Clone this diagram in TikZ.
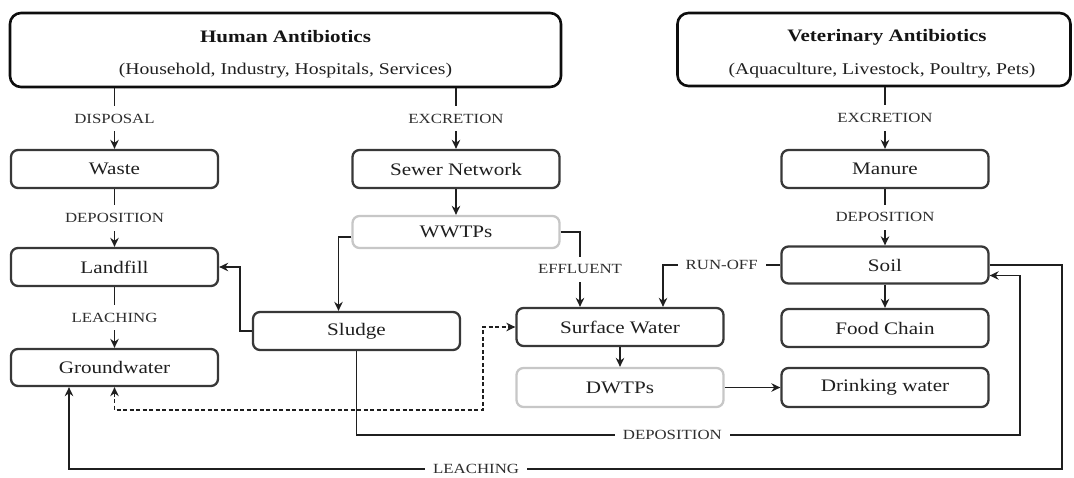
\documentclass[tikz,border=0pt]{standalone}
\usepackage{fontspec}
\setmainfont{Liberation Serif}
\usepackage{graphicx}
\usetikzlibrary{arrows.meta,calc}
\newcommand{\hstr}[1]{\scalebox{1.2}[1]{#1}}
\tikzset{
  box/.style={draw=black!78, line width=2.3pt, rounded corners=7pt, fill=white,
    minimum width=207pt, minimum height=38pt, inner sep=0pt,
    font=\fontsize{17.6}{20}\selectfont, text=black!88},
  bigbox/.style={draw=black!95, line width=2.6pt, rounded corners=11pt, inner sep=0pt},
  plant/.style={box, draw=black!22},
  ttl/.style={font=\fontsize{17.5}{20}\selectfont\bfseries, text=black!92, inner sep=0pt},
  sub/.style={font=\fontsize{16.4}{20}\selectfont, text=black!88, inner sep=0pt},
  lbl/.style={fill=white, inner xsep=8pt, inner ysep=8pt, font=\fontsize{14}{16}\selectfont, text=black!82},
  conn/.style={line width=1.8pt, draw=black!88},
  dsh/.style={conn, dash pattern=on 4pt off 2.5pt},
  >={Stealth[length=9pt,width=8.5pt]}
}
\begin{document}
\begin{tikzpicture}[x=1pt,y=-1pt]
\useasboundingbox (0,0) rectangle (1074,477);
% sources
\node[bigbox, minimum width=551pt, minimum height=74pt] (human) at (285.5,50) {};
\node[ttl] (humant) at (285.5,37) {\hstr{Human Antibiotics}};
\node[sub] (humans) at (285.5,71) {\hstr{(Household, Industry, Hospitals, Services)}};
\node[bigbox, minimum width=393pt, minimum height=73pt] (vet) at (874,49.5) {};
\node[ttl] (vett) at (887,37.5) {\hstr{Veterinary Antibiotics}};
\node[sub] (vets) at (882,71) {\hstr{(Aquaculture, Livestock, Poultry, Pets)}};
% boxes
\node[box] (waste) at (114.5,169) {\hstr{Waste}};
\node[box] (sewer) at (456,169) {\hstr{Sewer Network}};
\node[box] (manure) at (885,169) {\hstr{Manure}};
\node[plant, minimum height=32pt] (wwtps) at (456,232) {\hstr{WWTPs}};
\node[box] (landfill) at (114.5,267) {\hstr{Landfill}};
\node[box, minimum height=37pt] (soil) at (885,265) {\hstr{Soil}};
\node[box] (sludge) at (356.5,331) {\hstr{Sludge}};
\node[box] (surface) at (620,327) {\hstr{Surface Water}};
\node[box] (food) at (885,328) {\hstr{Food Chain}};
\node[box, minimum height=37pt] (ground) at (114.5,367.5) {\hstr{Groundwater}};
\node[plant, minimum height=39pt] (dwtps) at (620,387.5) {\hstr{DWTPs}};
\node[box, minimum height=39pt] (drink) at (885,387.5) {\hstr{Drinking water}};
% connectors
\draw[conn,->] (human.south -| waste.north) -- node[lbl]{\hstr{DISPOSAL}} (waste.north);
\draw[conn,->] (human.south -| sewer.north) -- node[lbl]{\hstr{EXCRETION}} (sewer.north);
\draw[conn,->] (vet.south -| manure.north) -- node[lbl]{\hstr{EXCRETION}} (manure.north);
\draw[conn,->] (waste) -- node[lbl]{\hstr{DEPOSITION}} (landfill);
\draw[conn,->] (manure) -- node[lbl]{\hstr{DEPOSITION}} (soil);
\draw[conn,->] (landfill) -- node[lbl]{\hstr{LEACHING}} (ground);
\draw[conn,->] (sewer) -- (wwtps);
\draw[conn,->] ([yshift=-5pt]wwtps.west) -| ([xshift=-18pt]sludge.north);
\draw[conn,->] (wwtps.east) -| node[lbl,pos=0.75]{\hstr{EFFLUENT}} ([xshift=-40pt]surface.north);
\draw[conn,->] (soil.west) -| node[lbl,pos=0.25]{\hstr{RUN-OFF}} ([xshift=43pt]surface.north);
\draw[conn,->] (sludge.west) -- ++(-12,0) |- (landfill.east);
\draw[conn,->] (surface) -- (dwtps);
\draw[conn,->] (dwtps) -- (drink);
\draw[conn,->] (soil) -- (food);
\coordinate (dashc) at (483,410);
\draw[dsh,<->] (ground.south) |- (dashc) |- (surface.west);
\coordinate (depc) at (1020,435);
\draw[conn,->] (sludge.south) |- node[lbl,pos=0.738]{\hstr{DEPOSITION}} (depc) |- ([yshift=-10.5pt]soil.east);
\coordinate (leachc) at (1062,469);
\draw[conn,->] (soil.east) -| (leachc) -| node[lbl,pos=0.295]{\hstr{LEACHING}} ([xshift=-45.5pt]ground.south);
\end{tikzpicture}
\end{document}
